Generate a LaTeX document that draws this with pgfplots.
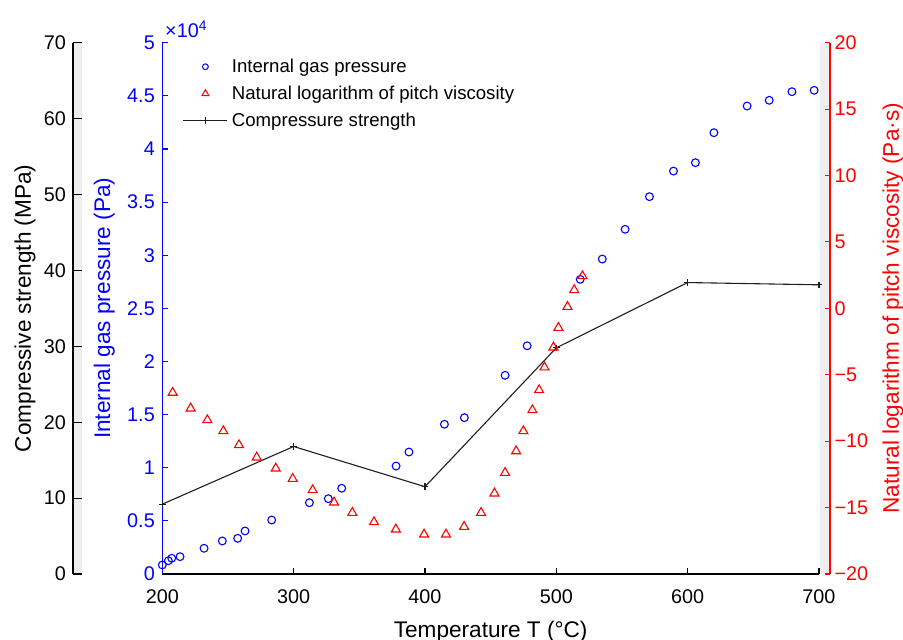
\documentclass[border=0pt]{standalone}
\usepackage{fontspec}
\setmainfont{Liberation Sans}
\usepackage{pgfplots}
\usepackage{pgfplotstable}
\pgfplotsset{compat=1.18}

\definecolor{stripgrey}{RGB}{238,238,238}
\definecolor{pblue}{RGB}{0,0,255}
\definecolor{vred}{RGB}{255,0,0}
\definecolor{sblack}{RGB}{30,30,30}

% Internal gas pressure, in units of 10^4 Pa
\pgfplotstableread{
T    p
200.0 0.085
204.6 0.125
207.2 0.148
213.5 0.163
231.8 0.242
245.7 0.311
257.4 0.336
263.0 0.405
283.3 0.508
312.0 0.671
326.4 0.709
336.6 0.807
378.0 1.016
387.8 1.148
414.8 1.409
430.0 1.471
461.0 1.870
477.8 2.148
518.2 2.773
535.0 2.964
552.4 3.244
570.9 3.551
589.2 3.792
605.9 3.871
620.0 4.153
645.3 4.404
662.1 4.458
679.4 4.539
696.3 4.552
}\pressure

% Natural logarithm of pitch viscosity
\pgfplotstableread{
T    lnv
207.9 -6.35
221.6 -7.53
234.3 -8.41
246.5 -9.24
258.4 -10.29
271.9 -11.22
286.4 -12.05
299.3 -12.83
314.5 -13.68
330.8 -14.61
344.7 -15.39
361.2 -16.09
377.8 -16.64
399.3 -17.02
416.0 -17.02
429.8 -16.44
442.7 -15.39
452.9 -13.93
461.0 -12.38
469.4 -10.75
474.9 -9.24
481.8 -7.66
486.9 -6.15
491.0 -4.44
497.8 -2.94
501.6 -1.46
508.5 0.12
513.6 1.38
519.9 2.43
}\viscosity

% Compressive strength (MPa)
\pgfplotstableread{
T   s
200 9.2
300 16.8
400 11.5
500 29.8
600 38.4
700 38.1
}\strength

\newcommand{\tickfont}{\fontsize{19.8}{22}\selectfont}
\newcommand{\labfont}{\fontsize{22.6}{25}\selectfont}
\newcommand{\legfont}{\fontsize{18.6}{21}\selectfont}

\pgfplotsset{
  common/.style={
    scale only axis,
    height=531.3pt,
    tick align=inside,
    /pgf/number format/assume math mode=true,
    tick label style={font=\tickfont},
    label style={font=\labfont},
    axis line style={line width=1.1pt,-},
    tick style={line width=1.1pt},
  },
  myleg/.style={
    legend image code/.code={\draw[mark repeat=2,mark phase=2]
      plot coordinates {(0pt,0pt)(22pt,0pt)(44pt,0pt)};}
  },
}

\begin{document}
\begin{tikzpicture}

% main axis: temperature and internal gas pressure
\begin{axis}[common,
  width=656.7pt,
  xmin=200, xmax=700, ymin=0, ymax=5,
  axis x line*=bottom, axis y line*=left,
  xtick={200,300,400,500,600,700},
  ytick={0,0.5,1,1.5,2,2.5,3,3.5,4,4.5,5},
  major tick length=6pt,
  x axis line style={black}, xtick style={black},
  y axis line style={pblue}, ytick style={pblue},
  yticklabel style={pblue, xshift=-4pt},
  xticklabel style={yshift=-12pt},
  xlabel={Temperature T (°C)},
  xlabel style={at={(axis description cs:0.5,-0.1186)}, anchor=base},
  ylabel={Internal gas pressure (Pa)},
  ylabel style={pblue, at={(axis description cs:-0.0883,0.5)}, anchor=center},
  clip=false,
  legend style={at={(axis description cs:0.031,0.973)}, anchor=north west,
    draw=none, fill=none, font=\legfont, inner sep=0pt, row sep=7.9pt,
    cells={anchor=west},
    /tikz/every odd column/.append style={column sep=2pt}},
]
  % background strips of the two extra y axes
  \fill[stripgrey] (axis cs:132,0) rectangle (axis cs:138.85,5);
  \fill[stripgrey] (axis cs:700.8,0) rectangle (axis cs:708.37,5);

  \addplot[only marks, mark=o, pblue, mark size=3.9pt, line width=1.1pt, forget plot]
    table[x=T, y=p] {\pressure};

  \addlegendimage{only marks, mark=o, pblue, mark size=2.9pt, line width=1pt, myleg}
  \addlegendentry{Internal gas pressure}
  \addlegendimage{only marks, mark=triangle, vred, mark size=4pt, line width=1pt, myleg}
  \addlegendentry{Natural logarithm of pitch viscosity}
  \addlegendimage{sblack, line width=1.1pt, mark=+, mark size=3.3pt, myleg}
  \addlegendentry{Compressure strength}

  \node[anchor=base west, pblue, font=\tickfont, inner sep=0pt, xshift=2.7pt, yshift=4.7pt]
    at (axis description cs:0,1) {×10\textsuperscript{4}};
\end{axis}

% outer left axis: compressive strength
\begin{axis}[common,
  at={(-89.3pt,0pt)},
  width=746pt,
  xmin=132, xmax=700, ymin=0, ymax=70,
  axis y line*=left, axis x line=none,
  ytick={0,10,20,30,40,50,60,70},
  major tick length=9pt,
  y axis line style={black}, ytick style={black},
  yticklabel style={xshift=-3.5pt},
  ylabel={Compressive strength (MPa)},
  ylabel style={at={(axis description cs:-0.0643,0.5)}, anchor=center},
]
  \addplot[sblack, line width=1.1pt, mark=+, mark size=3.3pt]
    table[x=T, y=s] {\strength};
\end{axis}

% right axis: natural logarithm of pitch viscosity
\begin{axis}[common,
  width=667.7pt,
  xmin=200, xmax=708.37, ymin=-20, ymax=20,
  axis y line*=right, axis x line=none,
  ytick={-20,-15,-10,-5,0,5,10,15,20},
  yticklabels={−20,−15,−10,−5,0,5,10,15,20},
  major tick length=5pt,
  y axis line style={vred}, ytick style={vred},
  yticklabel style={vred, xshift=1pt},
  ylabel={Natural logarithm of pitch viscosity (Pa·s)},
  ylabel style={vred, at={(axis description cs:1.0944,0.5)}, anchor=center},
]
  \addplot[only marks, mark=triangle, vred, mark size=5.2pt, line width=1.1pt]
    table[x=T, y=lnv] {\viscosity};
\end{axis}

\pgfresetboundingbox
\useasboundingbox (-162.3pt,-66pt) rectangle (740.7pt,574pt);
\end{tikzpicture}
\end{document}
